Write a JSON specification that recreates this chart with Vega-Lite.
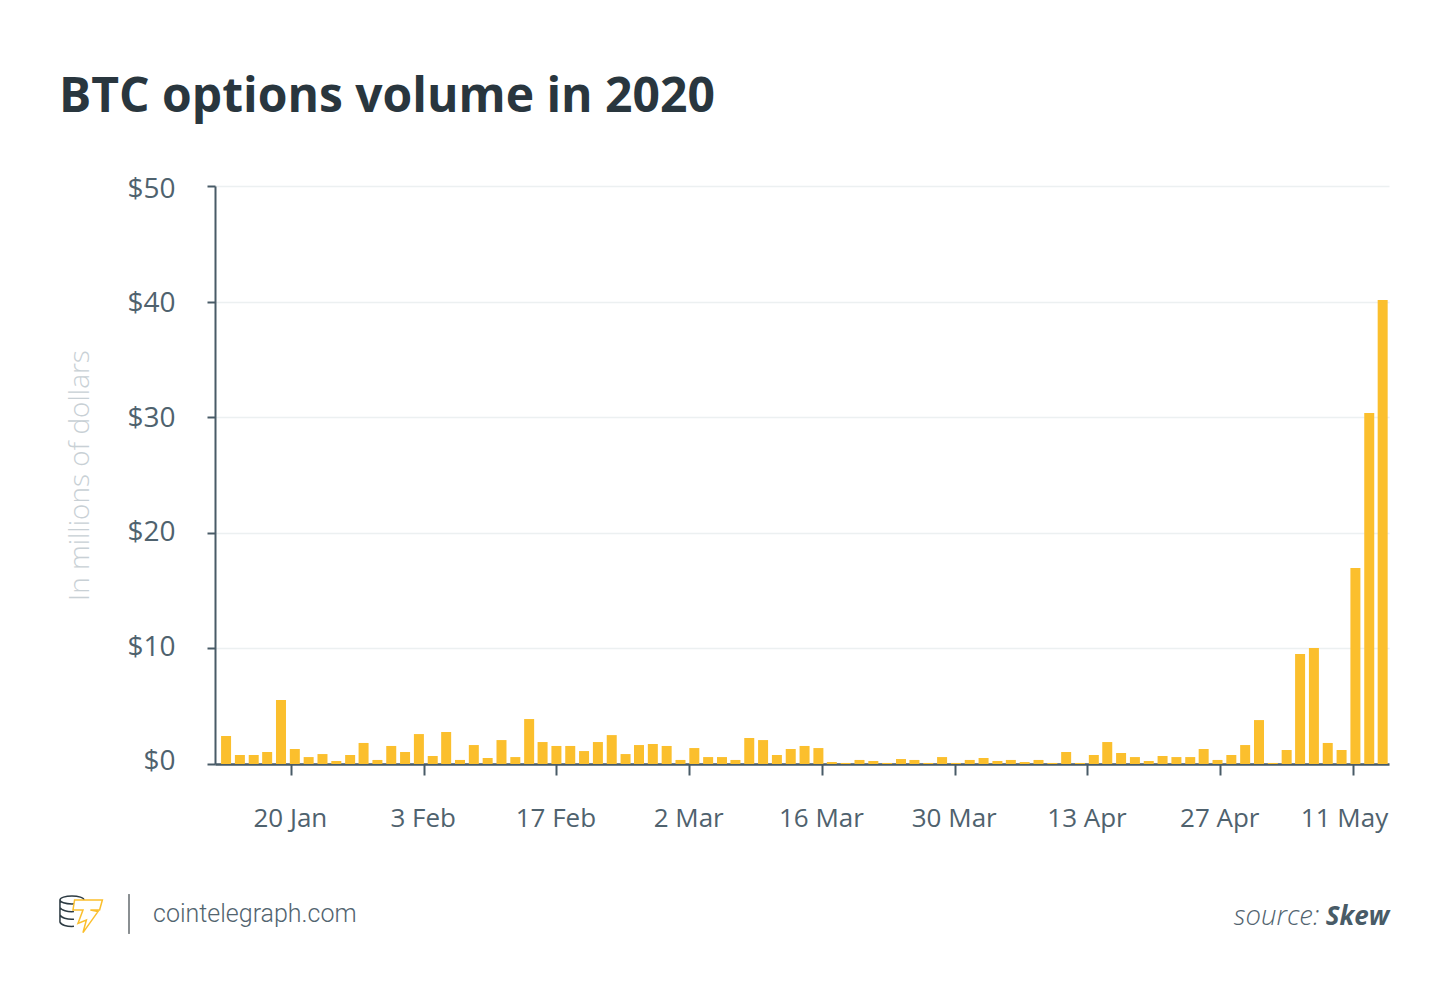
{
  "$schema": "https://vega.github.io/schema/vega-lite/v6.json",
  "autosize": {"type": "none"},
  "padding": {"left": 215, "top": 186, "right": 61, "bottom": 231},
  "width": 1174,
  "height": 578,
  "background": "white",
  "title": {
    "text": "BTC options volume in 2020",
    "anchor": "start",
    "frame": "group",
    "dx": -156,
    "offset": 54,
    "font": "Open Sans",
    "fontSize": 48,
    "fontWeight": 700,
    "color": "#29363e"
  },
  "config": {"view": {"stroke": null}},
  "datasets": {
    "volume": [
      {"date": "2020-01-13T04:00:00Z", "usd": 2.42},
      {"date": "2020-01-14T15:00:00Z", "usd": 0.78},
      {"date": "2020-01-16T02:00:00Z", "usd": 0.78},
      {"date": "2020-01-17T12:00:00Z", "usd": 1.04},
      {"date": "2020-01-18T23:00:00Z", "usd": 5.53},
      {"date": "2020-01-20T10:00:00Z", "usd": 1.3},
      {"date": "2020-01-21T21:00:00Z", "usd": 0.6},
      {"date": "2020-01-23T08:00:00Z", "usd": 0.86},
      {"date": "2020-01-24T19:00:00Z", "usd": 0.26},
      {"date": "2020-01-26T06:00:00Z", "usd": 0.78},
      {"date": "2020-01-27T16:00:00Z", "usd": 1.82},
      {"date": "2020-01-29T03:00:00Z", "usd": 0.35},
      {"date": "2020-01-30T14:00:00Z", "usd": 1.56},
      {"date": "2020-02-01T01:00:00Z", "usd": 1.04},
      {"date": "2020-02-02T12:00:00Z", "usd": 2.59},
      {"date": "2020-02-03T23:00:00Z", "usd": 0.69},
      {"date": "2020-02-05T09:00:00Z", "usd": 2.77},
      {"date": "2020-02-06T20:00:00Z", "usd": 0.35},
      {"date": "2020-02-08T07:00:00Z", "usd": 1.64},
      {"date": "2020-02-09T18:00:00Z", "usd": 0.52},
      {"date": "2020-02-11T05:00:00Z", "usd": 2.07},
      {"date": "2020-02-12T16:00:00Z", "usd": 0.6},
      {"date": "2020-02-14T03:00:00Z", "usd": 3.89},
      {"date": "2020-02-15T13:00:00Z", "usd": 1.9},
      {"date": "2020-02-17T00:00:00Z", "usd": 1.56},
      {"date": "2020-02-18T11:00:00Z", "usd": 1.56},
      {"date": "2020-02-19T22:00:00Z", "usd": 1.12},
      {"date": "2020-02-21T09:00:00Z", "usd": 1.9},
      {"date": "2020-02-22T20:00:00Z", "usd": 2.5},
      {"date": "2020-02-24T07:00:00Z", "usd": 0.86},
      {"date": "2020-02-25T17:00:00Z", "usd": 1.64},
      {"date": "2020-02-27T04:00:00Z", "usd": 1.73},
      {"date": "2020-02-28T15:00:00Z", "usd": 1.56},
      {"date": "2020-03-01T02:00:00Z", "usd": 0.35},
      {"date": "2020-03-02T13:00:00Z", "usd": 1.38},
      {"date": "2020-03-04T00:00:00Z", "usd": 0.6},
      {"date": "2020-03-05T11:00:00Z", "usd": 0.6},
      {"date": "2020-03-06T21:00:00Z", "usd": 0.35},
      {"date": "2020-03-08T08:00:00Z", "usd": 2.25},
      {"date": "2020-03-09T19:00:00Z", "usd": 2.07},
      {"date": "2020-03-11T06:00:00Z", "usd": 0.78},
      {"date": "2020-03-12T17:00:00Z", "usd": 1.3},
      {"date": "2020-03-14T04:00:00Z", "usd": 1.56},
      {"date": "2020-03-15T15:00:00Z", "usd": 1.38},
      {"date": "2020-03-17T01:00:00Z", "usd": 0.17},
      {"date": "2020-03-18T12:00:00Z", "usd": 0.09},
      {"date": "2020-03-19T23:00:00Z", "usd": 0.35},
      {"date": "2020-03-21T10:00:00Z", "usd": 0.26},
      {"date": "2020-03-22T21:00:00Z", "usd": 0.09},
      {"date": "2020-03-24T08:00:00Z", "usd": 0.43},
      {"date": "2020-03-25T18:00:00Z", "usd": 0.35},
      {"date": "2020-03-27T05:00:00Z", "usd": 0.09},
      {"date": "2020-03-28T16:00:00Z", "usd": 0.6},
      {"date": "2020-03-30T03:00:00Z", "usd": 0.09},
      {"date": "2020-03-31T14:00:00Z", "usd": 0.35},
      {"date": "2020-04-02T01:00:00Z", "usd": 0.52},
      {"date": "2020-04-03T12:00:00Z", "usd": 0.26},
      {"date": "2020-04-04T22:00:00Z", "usd": 0.35},
      {"date": "2020-04-06T09:00:00Z", "usd": 0.17},
      {"date": "2020-04-07T20:00:00Z", "usd": 0.35},
      {"date": "2020-04-09T07:00:00Z", "usd": 0.09},
      {"date": "2020-04-10T18:00:00Z", "usd": 1.04},
      {"date": "2020-04-12T05:00:00Z", "usd": 0.09},
      {"date": "2020-04-13T16:00:00Z", "usd": 0.78},
      {"date": "2020-04-15T02:00:00Z", "usd": 1.9},
      {"date": "2020-04-16T13:00:00Z", "usd": 0.95},
      {"date": "2020-04-18T00:00:00Z", "usd": 0.6},
      {"date": "2020-04-19T11:00:00Z", "usd": 0.26},
      {"date": "2020-04-20T22:00:00Z", "usd": 0.69},
      {"date": "2020-04-22T09:00:00Z", "usd": 0.6},
      {"date": "2020-04-23T20:00:00Z", "usd": 0.6},
      {"date": "2020-04-25T06:00:00Z", "usd": 1.3},
      {"date": "2020-04-26T17:00:00Z", "usd": 0.35},
      {"date": "2020-04-28T04:00:00Z", "usd": 0.78},
      {"date": "2020-04-29T15:00:00Z", "usd": 1.64},
      {"date": "2020-05-01T02:00:00Z", "usd": 3.8},
      {"date": "2020-05-02T13:00:00Z", "usd": 0.09},
      {"date": "2020-05-04T00:00:00Z", "usd": 1.21},
      {"date": "2020-05-05T10:00:00Z", "usd": 9.52},
      {"date": "2020-05-06T21:00:00Z", "usd": 10.03},
      {"date": "2020-05-08T08:00:00Z", "usd": 1.82},
      {"date": "2020-05-09T19:00:00Z", "usd": 1.21},
      {"date": "2020-05-11T06:00:00Z", "usd": 16.96},
      {"date": "2020-05-12T17:00:00Z", "usd": 30.36},
      {"date": "2020-05-14T03:00:00Z", "usd": 40.14}
    ],
    "one": [{}]
  },
  "layer": [
    {
      "data": {"name": "volume"},
      "mark": {"type": "bar", "width": 10, "color": "#fbbf2d"},
      "encoding": {
        "x": {
          "field": "date",
          "type": "temporal",
          "scale": {"type": "utc", "domain": [1578787200000, 1589482800000], "padding": 0},
          "title": null,
          "axis": {
            "values": [1579478400000, 1580688000000, 1581897600000, 1583107200000, 1584316800000, 1585526400000, 1586736000000, 1587945600000, 1589155200000],
            "labelExpr": "utcFormat(datum.value, '%-d %b')",
            "grid": false,
            "domainColor": "#485b67",
            "domainWidth": 2.5,
            "tickColor": "#485b67",
            "tickWidth": 2,
            "tickSize": 11,
            "labelFont": "Open Sans",
            "labelFontSize": 26,
            "labelColor": "#4f626e",
            "labelPadding": 30,
            "labelFlush": false,
            "labelOverlap": false,
            "labelOffset": {"expr": "datum.value > 1589000000000 ? -9 : (datum.value == 1579478400000 || datum.value == 1586736000000) ? -3 : -1"}
          }
        },
        "y": {
          "field": "usd",
          "type": "quantitative",
          "scale": {"domain": [0, 50], "nice": false},
          "title": "In millions of dollars",
          "axis": {
            "values": [0, 10, 20, 30, 40, 50],
            "labelExpr": "'$' + datum.value",
            "grid": true,
            "gridColor": "#ecf0f1",
            "gridWidth": 1.5,
            "domainColor": "#485b67",
            "domainWidth": 2,
            "tickColor": "#485b67",
            "tickWidth": 2,
            "tickSize": 8,
            "labelFont": "Open Sans",
            "labelFontSize": 28,
            "labelColor": "#4f626e",
            "labelPadding": 32,
            "labelOffset": {"expr": "(datum.value - 25) * 0.12 + 0.5"},
            "titleFont": "Open Sans",
            "titleFontSize": 28,
            "titleFontWeight": 300,
            "titleColor": "#c8d0d5",
            "titleX": -121,
            "titleY": 289
          }
        }
      }
    },
    {
      "data": {"name": "one"},
      "mark": {"type": "text", "font": "Roboto", "fontSize": 25, "fontWeight": 300, "color": "#52646f", "align": "left", "baseline": "middle"},
      "encoding": {
        "x": {"datum": 1578222300000, "type": "temporal"},
        "y": {"datum": -12.98, "type": "quantitative"},
        "text": {"value": "cointelegraph.com"}
      }
    },
    {
      "data": {"name": "one"},
      "mark": {"type": "text", "font": "Open Sans", "fontSize": 27.5, "fontStyle": "italic", "fontWeight": 300, "color": "#52646f", "align": "right", "baseline": "middle"},
      "encoding": {
        "x": {"datum": 1588846800000, "type": "temporal"},
        "y": {"datum": -13.2, "type": "quantitative"},
        "text": {"value": "source:"}
      }
    },
    {
      "data": {"name": "one"},
      "mark": {"type": "text", "font": "Open Sans", "fontSize": 26, "fontStyle": "italic", "fontWeight": 700, "color": "#485b67", "align": "right", "baseline": "middle"},
      "encoding": {
        "x": {"datum": 1589485000000, "type": "temporal"},
        "y": {"datum": -13.2, "type": "quantitative"},
        "text": {"value": "Skew"}
      }
    },
    {
      "data": {"name": "one"},
      "mark": {"type": "rule", "color": "#8a8f92", "strokeWidth": 2},
      "encoding": {
        "x": {"datum": 1578003600000, "type": "temporal"},
        "y": {"datum": -11.25, "type": "quantitative"},
        "y2": {"datum": -14.7}
      }
    },
    {
      "data": {"name": "one"},
      "mark": {
        "type": "point",
        "filled": false,
        "size": 1600,
        "stroke": "#2c3a42",
        "strokeWidth": 1.5,
        "opacity": 1,
        "shape": "M-.6 -.6A.6 .2 0 1 1 .6 -.6A.6 .2 0 1 1 -.6 -.6ZM-.6 -.6L-.6 .5A.6 .25 0 0 0 .1 .72M-.6 -.22A.6 .25 0 0 0 .1 -.02M-.6 .14A.6 .25 0 0 0 .1 .36"
      },
      "encoding": {
        "x": {"datum": 1577484000000, "type": "temporal"},
        "y": {"datum": -12.8, "type": "quantitative"}
      }
    },
    {
      "data": {"name": "one"},
      "mark": {
        "type": "point",
        "filled": true,
        "size": 1600,
        "fill": "white",
        "stroke": "#fbbf2d",
        "strokeWidth": 1.5,
        "opacity": 1,
        "shape": "M-.67 -.75L.72 -.75L.58 -.25L.12 -.25L.5 -.17L-.25 .88L-.08 .25L-.5 .42L-.25 -.25L-.75 -.25Z"
      },
      "encoding": {
        "x": {"datum": 1577630000000, "type": "temporal"},
        "y": {"datum": -13.06, "type": "quantitative"}
      }
    }
  ]
}
